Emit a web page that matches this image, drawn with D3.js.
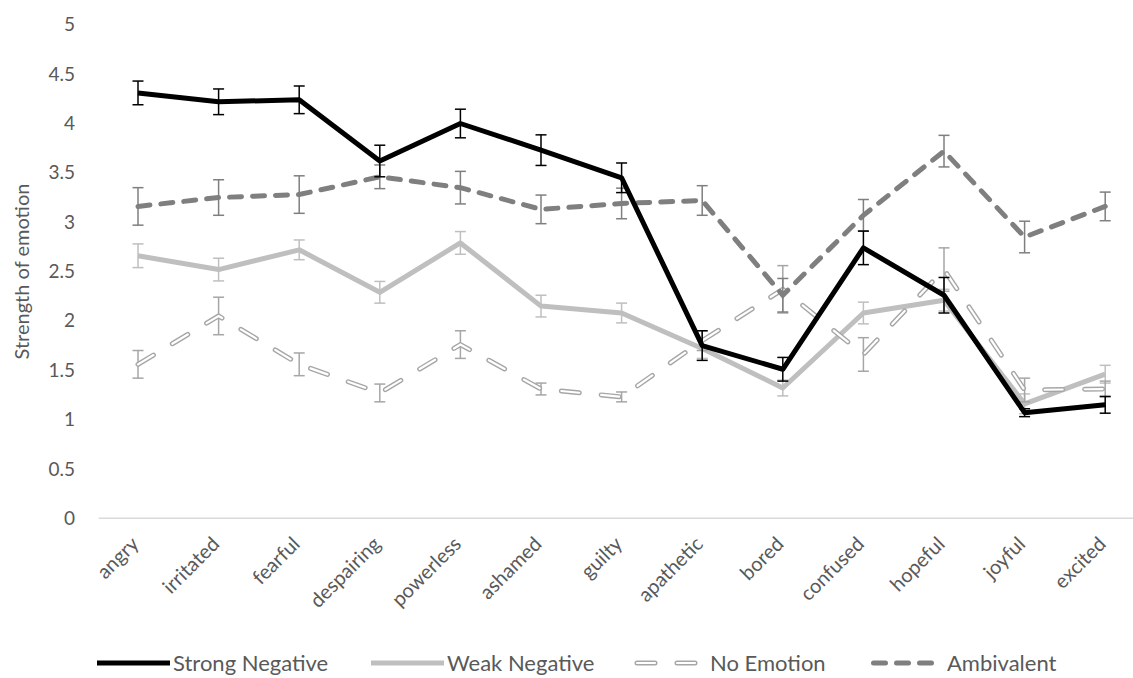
<!DOCTYPE html>
<html>
<head>
<meta charset="utf-8">
<script src="https://cdn.jsdelivr.net/npm/d3@7"></script>
<style>
  html, body { margin: 0; padding: 0; background: #fff; }
  svg { display: block; }
  text { font-family: Lato, "Open Sans", sans-serif; fill: #595959; }
</style>
</head>
<body>
<svg id="chart" width="1133" height="678"></svg>
<script>
// Emotion categories along the x axis
const categories = ["angry", "irritated", "fearful", "despairing", "powerless", "ashamed",
  "guilty", "apathetic", "bored", "confused", "hopeful", "joyful", "excited"];

// Mean strength of emotion per condition, with error bar half-widths
const strongNegative    = [4.31, 4.22, 4.24, 3.62, 4.00, 3.73, 3.45, 1.75, 1.51, 2.74, 2.26, 1.07, 1.15];
const strongNegativeErr = [0.12, 0.13, 0.14, 0.16, 0.145, 0.155, 0.15, 0.15, 0.12, 0.17, 0.18, 0.04, 0.085];
const weakNegative      = [2.66, 2.52, 2.72, 2.29, 2.79, 2.15, 2.08, 1.72, 1.32, 2.08, 2.21, 1.16, 1.46];
const weakNegativeErr   = [0.12, 0.115, 0.10, 0.11, 0.115, 0.11, 0.10, 0.10, 0.08, 0.11, 0.11, 0.10, 0.09];
const noEmotion         = [1.56, 2.05, 1.56, 1.27, 1.76, 1.31, 1.23, 1.80, 2.32, 1.66, 2.52, 1.30, 1.31];
const noEmotionErr      = [0.14, 0.19, 0.115, 0.09, 0.14, 0.06, 0.05, 0.10, 0.24, 0.17, 0.22, 0.12, 0.08];
const ambivalent        = [3.16, 3.25, 3.28, 3.46, 3.35, 3.13, 3.19, 3.22, 2.26, 3.07, 3.72, 2.85, 3.16];
const ambivalentErr     = [0.19, 0.18, 0.19, 0.12, 0.165, 0.145, 0.155, 0.15, 0.17, 0.16, 0.16, 0.16, 0.145];

// Y axis ticks
const yTicks = [0, 0.5, 1, 1.5, 2, 2.5, 3, 3.5, 4, 4.5, 5];

const seriesNames = ["Strong Negative", "Weak Negative", "No Emotion", "Ambivalent"];

const series = [
  { name: seriesNames[1], values: weakNegative, err: weakNegativeErr, style: "weak" },
  { name: seriesNames[2], values: noEmotion, err: noEmotionErr, style: "none" },
  { name: seriesNames[3], values: ambivalent, err: ambivalentErr, style: "amb" },
  { name: seriesNames[0], values: strongNegative, err: strongNegativeErr, style: "strong" }
];

const styles = {
  strong: { color: "#000000", errColor: "#000000" },
  weak:   { color: "#bfbfbf", errColor: "#bfbfbf" },
  none:   { color: "#a6a6a6", errColor: "#a6a6a6" },
  amb:    { color: "#7f7f7f", errColor: "#7f7f7f" }
};

const FONT = "Lato, 'Open Sans', sans-serif";
const svg = d3.select("#chart");

const x = d3.scaleBand().domain(categories).range([97.7, 1145.5]).paddingInner(0).paddingOuter(0);
const cx = c => x(c) + x.bandwidth() / 2;
const y = d3.scaleLinear().domain([0, 5]).range([518.3, 24.8]);

// Y tick labels (no gridlines)
const yAxis = d3.axisLeft(y).tickValues(yTicks).tickSize(0).tickPadding(0).tickFormat(d3.format("~g"));
const yg = svg.append("g").attr("transform", "translate(75,0)").call(yAxis);
yg.select(".domain").remove();
yg.selectAll("text").attr("font-size", 19).attr("fill", "#595959").style("font-family", FONT);

// Category axis line at zero
const xAxis = d3.axisBottom(x).tickSize(0).tickPadding(0);
const xg = svg.append("g").attr("transform", `translate(0,${y(0)})`).call(xAxis);
xg.select(".domain").attr("stroke", "#d9d9d9").attr("stroke-width", 1.5)
  .attr("d", `M${x.range()[0] + 1},0H${x.range()[1]}`);
xg.selectAll(".tick text")
  .attr("font-size", 20).attr("fill", "#595959")
  .style("font-family", FONT)
  .attr("text-anchor", "end")
  .attr("dy", 0)
  .attr("transform", "translate(2,27) rotate(-45)");

// Y axis title
svg.append("text")
  .attr("transform", `translate(29,${(y(0) + y(5)) / 2}) rotate(-90)`)
  .attr("text-anchor", "middle")
  .attr("font-size", 20)
  .text("Strength of emotion");

const line = d3.line().x((d, i) => cx(categories[i])).y(d => y(d));

function drawStyledPath(g, d, style) {
  if (style === "strong") {
    g.append("path").attr("d", d).attr("fill", "none").attr("stroke", "#000")
      .attr("stroke-width", 5).attr("stroke-linejoin", "round");
  } else if (style === "weak") {
    g.append("path").attr("d", d).attr("fill", "none").attr("stroke", "#bfbfbf")
      .attr("stroke-width", 5).attr("stroke-linejoin", "round");
  } else if (style === "amb") {
    g.append("path").attr("d", d).attr("fill", "none").attr("stroke", "#7f7f7f")
      .attr("stroke-width", 5).attr("stroke-linecap", "round")
      .attr("stroke-dasharray", "12,11");
  } else if (style === "none") {
    // hollow long dashes: grey outline with white core
    g.append("path").attr("d", d).attr("fill", "none").attr("stroke", "#a6a6a6")
      .attr("stroke-width", 5).attr("stroke-linecap", "round")
      .attr("stroke-dasharray", "18,22");
    g.append("path").attr("d", d).attr("fill", "none").attr("stroke", "#ffffff")
      .attr("stroke-width", 2.2).attr("stroke-linecap", "round")
      .attr("stroke-dasharray", "18,22");
  }
}

// Error bars then lines per series
series.forEach(s => {
  const g = svg.append("g").attr("class", "series");
  const st = styles[s.style];
  const eb = g.append("g").attr("stroke", st.errColor).attr("stroke-width", 1.5).attr("fill", "none");
  s.values.forEach((v, i) => {
    const px = cx(categories[i]);
    const top = y(v + s.err[i]), bot = y(v - s.err[i]);
    eb.append("line").attr("x1", px).attr("x2", px).attr("y1", top).attr("y2", bot);
    eb.append("line").attr("x1", px - 5.5).attr("x2", px + 5.5).attr("y1", top).attr("y2", top);
    eb.append("line").attr("x1", px - 5.5).attr("x2", px + 5.5).attr("y1", bot).attr("y2", bot);
  });
  drawStyledPath(g, line(s.values), s.style);
});

// Legend
const legendItems = [
  { name: seriesNames[0], style: "strong", x0: 97 },
  { name: seriesNames[1], style: "weak", x0: 371 },
  { name: seriesNames[2], style: "none", x0: 634 },
  { name: seriesNames[3], style: "amb", x0: 871 }
];
const legendY = 663;
legendItems.forEach(it => {
  const g = svg.append("g");
  let d;
  if (it.style === "none") d = `M${it.x0 + 3},${legendY}H${it.x0 + 70}`;
  else if (it.style === "amb") d = `M${it.x0 + 2.5},${legendY}H${it.x0 + 66}`;
  else d = `M${it.x0},${legendY}H${it.x0 + 73}`;
  drawStyledPath(g, d, it.style);
  g.append("text").attr("x", it.x0 + 76).attr("y", legendY).attr("dy", "0.35em")
    .attr("font-size", 22).text(it.name);
});
</script>
</body>
</html>
